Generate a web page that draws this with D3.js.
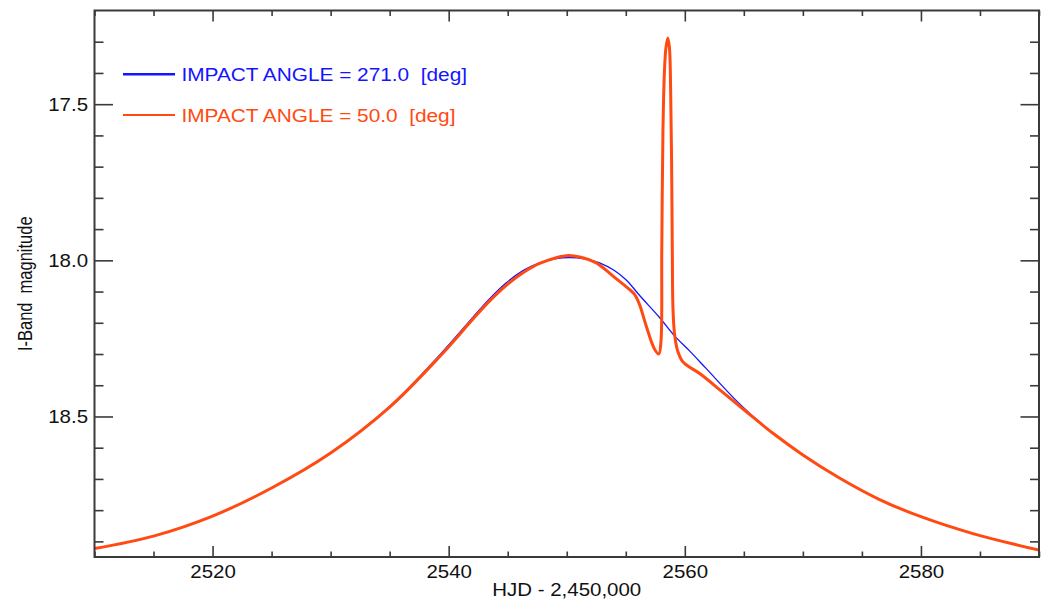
<!DOCTYPE html>
<html>
<head>
<meta charset="utf-8">
<script src="https://cdn.jsdelivr.net/npm/d3@7"></script>
<style>
  html, body { margin: 0; padding: 0; background: #fff; }
  svg { display: block; }
  .lbl { font-family: "Liberation Sans", Arial, Helvetica, sans-serif; white-space: pre; }
</style>
</head>
<body>
<div id="chart"></div>
<script>
// ============== Data ==============
var xMajor = [2520, 2540, 2560, 2580];
var yMajor = [17.5, 18.0, 18.5];

// blue : impact angle 271.0 deg (smooth curve)
var blueT   = [2510, 2515, 2520, 2525, 2530, 2535, 2539.24, 2542.06, 2543.47, 2544.88, 2546.29, 2547.7,
               2549, 2550.24, 2551.5, 2552.78, 2554, 2555.04, 2556.16, 2557.86, 2559.13, 2560.4, 2561.8,
               2564.6, 2567.44, 2570, 2573.1, 2576.5, 2580, 2584.4, 2590];
var blueMag = [18.923, 18.883, 18.819, 18.729, 18.616, 18.468, 18.303, 18.182, 18.123, 18.072, 18.033, 18.008,
               17.995, 17.991, 17.995, 18.008, 18.032, 18.063, 18.112, 18.183, 18.242, 18.290, 18.346,
               18.458, 18.553, 18.623, 18.697, 18.766, 18.821, 18.875, 18.928];

// orange : impact angle 50.0 deg (with caustic crossing)
var orangeT   = [2510, 2515, 2520, 2525, 2530, 2535, 2539.24, 2542.06, 2543.47, 2544.88, 2546.29, 2547.7,
                 2549.96, 2551.2, 2552.5, 2553.9, 2555.3, 2555.74, 2556.16, 2556.73, 2557.43, 2557.8, 2557.98,
                 2558.05, 2558.15, 2558.28, 2558.4, 2558.56, 2558.7, 2558.8, 2558.88, 2558.94, 2559.0, 2559.13,
                 2559.38, 2559.83, 2561.32, 2563.2, 2565.19, 2567.44, 2570, 2573.1, 2576.5, 2580, 2584.4, 2590];
var orangeMag = [18.923, 18.883, 18.819, 18.729, 18.617, 18.470, 18.308, 18.188, 18.130, 18.080, 18.040, 18.010,
                 17.985, 17.990, 18.008, 18.050, 18.093, 18.109, 18.141, 18.210, 18.284, 18.300, 18.260,
                 17.965, 17.580, 17.390, 17.320, 17.288, 17.320, 17.455, 17.680, 17.965, 18.157, 18.236,
                 18.288, 18.325, 18.364, 18.422, 18.484, 18.553, 18.623, 18.697, 18.766, 18.821, 18.875, 18.928];

var legendLabels = ['IMPACT ANGLE = 271.0  [deg]', 'IMPACT ANGLE = 50.0  [deg]'];
var colors = ['#1414ff', '#ff4a12'];

// ============== Setup ==============
var width = 1048, height = 599;
var mLeft = 94.5, mRight = 1039, mTop = 10.5, mBottom = 557;
var stretch = 1.17;   // the original text is a little wider than it is tall
var axisColor = '#3a3a3a';

var svg = d3.select('#chart')
  .append('svg')
  .attr('width', width)
  .attr('height', height);

var x = d3.scaleLinear().domain([2510, 2590]).range([mLeft, mRight]);
var y = d3.scaleLinear().domain([17.2, 18.95]).range([mTop, mBottom]);

var xMinor = d3.range(2510, 2591, 5).filter(function(d){ return xMajor.indexOf(d) < 0; });
var yMinor = d3.range(17.3, 18.95, 0.1).map(function(d){ return Math.round(d*10)/10; })
  .filter(function(d){ return yMajor.indexOf(d) < 0; });

// ============== Curves ==============
var line = d3.line()
  .x(function(d){ return x(d[0]); })
  .y(function(d){ return y(d[1]); })
  .curve(d3.curveCatmullRom.alpha(0.5));

var blueData = blueT.map(function(t, i){ return [t, blueMag[i]]; });
var orangeData = orangeT.map(function(t, i){ return [t, orangeMag[i]]; });

svg.append('defs').append('clipPath').attr('id', 'clip')
  .append('rect')
  .attr('x', mLeft).attr('y', mTop)
  .attr('width', mRight - mLeft).attr('height', mBottom - mTop);

var plot = svg.append('g').attr('clip-path', 'url(#clip)');

plot.append('path')
  .datum(blueData)
  .attr('d', line)
  .attr('fill', 'none')
  .attr('stroke', colors[0])
  .attr('stroke-width', 1.3);

plot.append('path')
  .datum(orangeData)
  .attr('d', line)
  .attr('fill', 'none')
  .attr('stroke', colors[1])
  .attr('stroke-width', 3)
  .attr('stroke-linejoin', 'round');

// ============== Axes ==============
function styleAxis(g){
  g.select('.domain').remove();
  g.selectAll('.tick line').attr('stroke', axisColor).attr('stroke-width', 1.6);
}

// bottom
svg.append('g')
  .attr('transform', 'translate(0,' + mBottom + ')')
  .call(d3.axisBottom(x).tickValues(xMajor).tickSizeInner(-11).tickSizeOuter(0).tickPadding(9)
    .tickFormat(d3.format('d')))
  .call(styleAxis)
  .call(function(g){
    g.selectAll('text')
      .attr('class', 'lbl')
      .attr('fill', '#111')
      .style('font-size', '17.5px')
      .attr('transform', 'scale(' + stretch + ',1)');
  });
svg.append('g')
  .attr('transform', 'translate(0,' + mBottom + ')')
  .call(d3.axisBottom(x).tickValues(xMinor).tickSizeInner(-5.5).tickSizeOuter(0).tickFormat(''))
  .call(styleAxis);

// top
svg.append('g')
  .attr('transform', 'translate(0,' + mTop + ')')
  .call(d3.axisTop(x).tickValues(xMajor).tickSizeInner(-11).tickSizeOuter(0).tickFormat(''))
  .call(styleAxis);
svg.append('g')
  .attr('transform', 'translate(0,' + mTop + ')')
  .call(d3.axisTop(x).tickValues(xMinor).tickSizeInner(-5.5).tickSizeOuter(0).tickFormat(''))
  .call(styleAxis);

// left
svg.append('g')
  .attr('transform', 'translate(' + mLeft + ',0)')
  .call(d3.axisLeft(y).tickValues(yMajor).tickSizeInner(-18.5).tickSizeOuter(0).tickPadding(5.5)
    .tickFormat(d3.format('.1f')))
  .call(styleAxis)
  .call(function(g){
    g.selectAll('text')
      .attr('class', 'lbl')
      .attr('fill', '#111')
      .attr('dy', '0.37em')
      .style('font-size', '17.5px')
      .attr('transform', 'scale(' + stretch + ',1)');
  });
svg.append('g')
  .attr('transform', 'translate(' + mLeft + ',0)')
  .call(d3.axisLeft(y).tickValues(yMinor).tickSizeInner(-9).tickSizeOuter(0).tickFormat(''))
  .call(styleAxis);

// right
svg.append('g')
  .attr('transform', 'translate(' + mRight + ',0)')
  .call(d3.axisRight(y).tickValues(yMajor).tickSizeInner(-18.5).tickSizeOuter(0).tickFormat(''))
  .call(styleAxis);
svg.append('g')
  .attr('transform', 'translate(' + mRight + ',0)')
  .call(d3.axisRight(y).tickValues(yMinor).tickSizeInner(-9).tickSizeOuter(0).tickFormat(''))
  .call(styleAxis);

// frame
svg.append('rect')
  .attr('x', mLeft).attr('y', mTop)
  .attr('width', mRight - mLeft).attr('height', mBottom - mTop)
  .attr('fill', 'none')
  .attr('stroke', axisColor)
  .attr('stroke-width', 2);

// ============== Titles ==============
svg.append('text')
  .attr('class', 'lbl')
  .attr('text-anchor', 'middle')
  .attr('fill', '#111')
  .style('font-size', '17.5px')
  .attr('transform', 'translate(' + ((mLeft + mRight) / 2) + ',596) scale(' + stretch + ',1)')
  .text('HJD - 2,450,000');

svg.append('text')
  .attr('class', 'lbl')
  .attr('text-anchor', 'middle')
  .attr('fill', '#111')
  .style('font-size', '16.5px')
  .attr('transform', 'translate(32,' + ((mTop + mBottom) / 2) + ') scale(' + stretch + ',1) rotate(-90)')
  .text('I-Band  magnitude');

// ============== Legend ==============
var legend = svg.selectAll('.legend')
  .data(legendLabels)
  .enter()
  .append('g')
  .attr('class', 'legend')
  .attr('transform', function(d, i){ return 'translate(0,' + (i ? 115 : 74.3) + ')'; });

legend.append('line')
  .attr('x1', 123).attr('x2', 175)
  .attr('y1', 0).attr('y2', 0)
  .attr('stroke', function(d, i){ return colors[i]; })
  .attr('stroke-width', function(d, i){ return i ? 2 : 2.6; });

legend.append('text')
  .attr('class', 'lbl')
  .attr('fill', function(d, i){ return colors[i]; })
  .style('font-size', '17.8px')
  .attr('transform', 'translate(181.5,6.8) scale(' + stretch + ',1)')
  .text(function(d){ return d; });
</script>
</body>
</html>
